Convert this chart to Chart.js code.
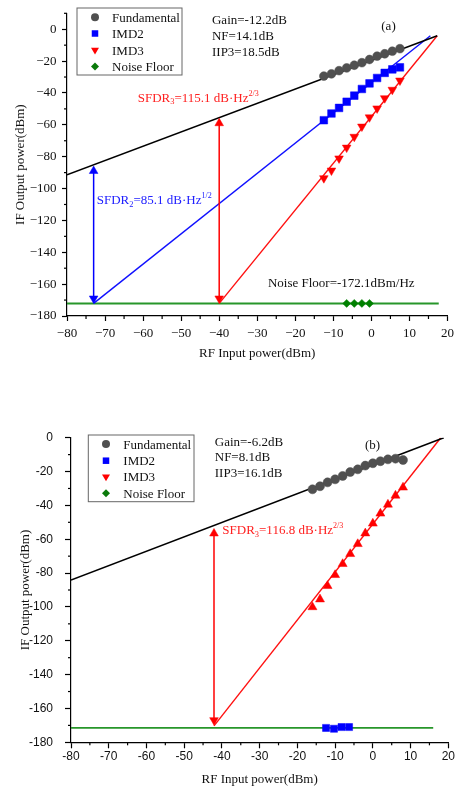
<!DOCTYPE html>
<html>
<head>
<meta charset="utf-8">
<script src="https://cdn.jsdelivr.net/npm/chart.js@4.4.1/dist/chart.umd.min.js"></script>
<style>
  html, body { margin: 0; padding: 0; background: #fff; }
  canvas { position: absolute; left: 0; }
</style>
</head>
<body>
<canvas id="chartA" width="459" height="400" style="top:0"></canvas>
<canvas id="chartB" width="459" height="389" style="top:400px"></canvas>
<script>
// ---------- panel (a) ----------
const fundXA = [-12.5, -10.5, -8.5, -6.5, -4.5, -2.5, -0.5, 1.5, 3.5, 5.5, 7.5];
const fundYA = [-29.4, -28.0, -26.0, -24.3, -22.6, -21.0, -19.0, -16.9, -15.4, -13.8, -12.2];
const imd2YA = [-57.1, -52.9, -49.4, -45.5, -41.7, -37.5, -34.0, -30.6, -27.4, -25.2, -23.9];
const imd3YA = [-93.5, -88.7, -81.1, -74.3, -67.5, -61.1, -55.3, -49.7, -43.3, -38.0, -32.2];
const noiseXA = [-6.5, -4.5, -2.5, -0.5];
const noiseYA = [-172.1, -172.1, -172.1, -172.1];

// fitted lines (start, end)
const fundLineXA = [-80, 17.3], fundLineYA = [-91.4, -4.1];
const imd2LineXA = [-73, 15.5], imd2LineYA = [-172.1, -4.1];
const imd3LineXA = [-40, 17.3], imd3LineYA = [-172.1, -4.1];
const floorLineXA = [-80, 17.7], floorLineYA = [-172.1, -172.1];

// SFDR arrows (top, bottom)
const arrow2XA = [-73, -73], arrow2YA = [-89, -169];
const arrow3XA = [-40, -40], arrow3YA = [-59, -169];

const notesA = ['SFDR_{2}=85.1 dB·Hz^{1/2}', 'SFDR_{3}=115.1 dB·Hz^{2/3}', 'Noise Floor=-172.1dBm/Hz',
  '(a)', 'Gain=-12.2dB', 'NF=14.1dB', 'IIP3=18.5dB'];
const notesXA = [-72.2, -61.4, -27.2, 2.6, -41.9, -41.9, -41.9];
const notesYA = [-109.8, -45.4, -162.0, -0.6, 3.1, -6.8, -17.1];
const notesColA = ['#2020ff', '#ff2020', '#111', '#111', '#111', '#111', '#111'];

// ---------- panel (b) ----------
const fundXB = [-16, -14, -12, -10, -8, -6, -4, -2, 0, 2, 4, 6, 8];
const fundYB = [-30.5, -28.7, -26.4, -24.6, -22.6, -20.3, -18.7, -16.5, -15.1, -13.9, -12.8, -12.4, -13.2];
const imd3YB = [-100.1, -95.5, -87.6, -81.1, -74.6, -68.7, -62.8, -56.5, -50.7, -44.8, -39.5, -34.2, -29.4];
const imd2XB = [-12.4, -10.3, -8.3, -6.3];
const imd2YB = [-171.5, -172.0, -171.0, -171.0];

const fundLineXB = [-80, 18.8], fundLineYB = [-84.1, 0];
const imd3LineXB = [-42.1, 18.0], imd3LineYB = [-170.3, 0];
const floorLineXB = [-80, 16.0], floorLineYB = [-171.5, -171.5];
const arrow3XB = [-42.1, -42.1], arrow3YB = [-56.6, -166.9];

const notesB = ['SFDR_{3}=116.8 dB·Hz^{2/3}', '(b)', 'Gain=-6.2dB', 'NF=8.1dB', 'IIP3=16.1dB'];
const notesXB = [-39.9, -2.1, -41.9, -41.9, -41.9];
const notesYB = [-57.1, -6.9, -4.7, -13.8, -23.1];
const notesColB = ['#ff2020', '#111', '#111', '#111', '#111'];

const SERIF = '"Liberation Serif", "Times New Roman", serif';
const SANS = '"Liberation Sans", Arial, sans-serif';
const GREY = '#505050', BLUE = '#0000ff', RED = '#ff0000', GREEN = '#008000';

const pts = (xs, ys) => xs.map((x, i) => ({x, y: ys[i]}));

// draw text with _{sub} and ^{sup} parts
function drawRich(ctx, str, x, y, size) {
  const parts = str.split(/(_\{[^}]*\}|\^\{[^}]*\})/).filter(s => s);
  let cx = x;
  parts.forEach(p => {
    let t = p, s = size, dy = 0;
    if (p.startsWith('_{')) { t = p.slice(2, -1); s = size * 0.65; dy = size * 0.22; }
    else if (p.startsWith('^{')) { t = p.slice(2, -1); s = size * 0.62; dy = -size * 0.45; }
    ctx.font = s + 'px ' + SERIF;
    ctx.fillText(t, cx, y + dy);
    cx += ctx.measureText(t).width;
  });
}

const notesPlugin = {
  id: 'notes',
  afterDraw(chart, args, o) {
    const ctx = chart.ctx;
    const {x, y} = chart.scales;
    ctx.save();
    ctx.textBaseline = 'alphabetic';
    ctx.textAlign = 'left';
    o.texts.forEach((t, i) => {
      ctx.fillStyle = o.colors[i];
      drawRich(ctx, t, x.getPixelForValue(o.xs[i]), y.getPixelForValue(o.ys[i]), 13);
    });
    ctx.restore();
  }
};

// Origin-like minor ticks between the labelled ones
const minorTicks = {
  id: 'minorTicks',
  afterDraw(chart, args, o) {
    const ctx = chart.ctx;
    ctx.save();
    ctx.strokeStyle = '#000';
    ctx.lineWidth = 1.2;
    ['x', 'y'].forEach(id => {
      const s = chart.scales[id];
      const step = o[id];
      for (let v = s.min; v <= s.max + 1e-9; v += step) {
        if (Math.abs(Math.round(v / step)) % 2 === 0) continue;
        const p = s.getPixelForValue(v);
        ctx.beginPath();
        if (id === 'x') { ctx.moveTo(p, s.top); ctx.lineTo(p, s.top + 3); }
        else { ctx.moveTo(s.right, p); ctx.lineTo(s.right - 3, p); }
        ctx.stroke();
      }
    });
    ctx.restore();
  }
};

// framed legend inside the plot
const boxLegend = {
  id: 'boxLegend',
  afterDraw(chart, args, o) {
    const ctx = chart.ctx;
    ctx.save();
    ctx.strokeStyle = '#666';
    ctx.lineWidth = 1;
    ctx.strokeRect(o.left, o.top, o.width, o.height);
    const items = chart.data.datasets.filter(d => d.legendStyle);
    items.forEach((d, i) => {
      const cy = o.top + o.rows[i];
      ctx.fillStyle = d.legendColor;
      ctx.strokeStyle = d.legendColor;
      Chart.helpers.drawPoint(ctx, {pointStyle: d.legendStyle, radius: d.legendRadius,
        rotation: d.legendRotation || 0, borderWidth: 0}, o.left + o.markX, cy);
      ctx.fillStyle = '#111';
      ctx.font = '13px ' + SERIF;
      ctx.textBaseline = 'alphabetic';
      ctx.fillText(d.label, o.left + o.textX, cy + 4.5);
    });
    ctx.restore();
  }
};

function lineSet(xs, ys, color, width) {
  return {data: pts(xs, ys), showLine: true, borderColor: color, borderWidth: width,
    pointRadius: 0, fill: false};
}
function arrowSet(xs, ys, color) {
  return {data: pts(xs, ys), showLine: true, borderColor: color, borderWidth: 1.5,
    pointStyle: 'triangle', pointRadius: 5, pointRotation: [0, 180],
    pointBackgroundColor: color, pointBorderColor: color, pointBorderWidth: 0.5};
}
function markSet(label, xs, ys, color, style, r, rot, legendRot, legendColor, legendR) {
  return {label, data: pts(xs, ys), pointStyle: style, pointRadius: r, pointRotation: rot,
    pointBackgroundColor: color, pointBorderColor: color, pointBorderWidth: 0.5,
    legendStyle: style, legendRotation: legendRot, legendColor: legendColor || color, legendRadius: legendR};
}

function axes(cfg) {
  const tickFont = {family: cfg.tickFamily, size: cfg.tickSize};
  const titleFont = {family: SERIF, size: 13};
  return {
    x: {
      type: 'linear', min: -80, max: 20,
      border: {display: true, color: '#000', width: 1.2},
      grid: {drawOnChartArea: false, drawTicks: true, tickLength: cfg.tickLen, tickColor: '#000', tickWidth: 1.2},
      ticks: {stepSize: 10, autoSkip: false, maxRotation: 0, color: '#111', font: tickFont,
        padding: cfg.xPad, callback: cfg.fmt},
      title: {display: true, text: 'RF Input power(dBm)', color: '#111', font: titleFont,
        padding: {top: 0, bottom: cfg.xTitlePad}},
      afterFit: s => { s.height = cfg.xHeight; }
    },
    y: {
      type: 'linear', min: -180, max: cfg.yMax,
      border: {display: true, color: '#000', width: 1.2},
      grid: {drawOnChartArea: false, drawTicks: true, tickLength: cfg.tickLen, tickColor: '#000', tickWidth: 1.2},
      ticks: {stepSize: 20, includeBounds: false, color: '#111', font: tickFont,
        padding: cfg.yPad, callback: cfg.fmt},
      title: {display: true, text: 'IF Output power(dBm)', color: '#111', font: titleFont,
        padding: {top: cfg.yTitlePad, bottom: 0}},
      afterFit: s => { s.width = cfg.yWidth; }
    }
  };
}

const commonPlugins = [minorTicks, notesPlugin, boxLegend];

new Chart(document.getElementById('chartA'), {
  type: 'scatter',
  data: {
    datasets: [
      markSet('Fundamental', fundXA, fundYA, GREY, 'circle', 4.4, 0, 0, GREY, 4),
      markSet('IMD2', fundXA, imd2YA, BLUE, 'rect', 5.4, 0, 0, BLUE, 4.6),
      markSet('IMD3', fundXA, imd3YA, RED, 'triangle', 5, 180, 180, RED, 4.6),
      markSet('Noise Floor', noiseXA, noiseYA, GREEN, 'rectRot', 4, 0, 0, '#0a7a0a', 4),
      arrowSet(arrow2XA, arrow2YA, BLUE),
      arrowSet(arrow3XA, arrow3YA, RED),
      lineSet(fundLineXA, fundLineYA, '#000', 1.5),
      lineSet(imd2LineXA, imd2LineYA, '#1010ff', 1.4),
      lineSet(imd3LineXA, imd3LineYA, '#ff1010', 1.4),
      lineSet(floorLineXA, floorLineYA, '#27962a', 2)
    ]
  },
  options: {
    responsive: false, animation: false, events: [],
    layout: {padding: {left: 0, top: 9.6, right: 11, bottom: 0}},
    scales: axes({tickFamily: SERIF, tickSize: 13, tickLen: 5, xPad: 5, yPad: 5.5,
      xHeight: 84, yWidth: 67, xTitlePad: 39, yTitlePad: 13, yMax: 10,
      fmt: v => v < 0 ? '\u2212' + (-v) : String(v)}),
    plugins: {
      legend: {display: false}, tooltip: {enabled: false},
      minorTicks: {x: 5, y: 10},
      notes: {texts: notesA, xs: notesXA, ys: notesYA, colors: notesColA},
      boxLegend: {left: 77, top: 8, width: 105, height: 67, rows: [9.3, 25.5, 42, 58.5], markX: 18, textX: 35}
    }
  },
  plugins: commonPlugins
});

new Chart(document.getElementById('chartB'), {
  type: 'scatter',
  data: {
    datasets: [
      markSet('Fundamental', fundXB, fundYB, GREY, 'circle', 4.5, 0, 0, GREY, 4),
      markSet('IMD2', imd2XB, imd2YB, BLUE, 'rect', 5, 0, 0, BLUE, 4.6),
      markSet('IMD3', fundXB, imd3YB, RED, 'triangle', 5.2, 0, 180, RED, 4.6),
      markSet('Noise Floor', [], [], GREEN, 'rectRot', 3.8, 0, 0, '#0a7a0a', 4),
      arrowSet(arrow3XB, arrow3YB, RED),
      lineSet(fundLineXB, fundLineYB, '#000', 1.5),
      lineSet(imd3LineXB, imd3LineYB, '#ff1010', 1.4),
      lineSet(floorLineXB, floorLineYB, '#27962a', 1.6)
    ]
  },
  options: {
    responsive: false, animation: false, events: [],
    layout: {padding: {left: 0, top: 37.7, right: 10.7, bottom: 0}},
    scales: axes({tickFamily: SANS, tickSize: 12, tickLen: 6, xPad: 1.5, yPad: 12,
      xHeight: 46.7, yWidth: 71, xTitlePad: 1.2, yTitlePad: 18, yMax: 0,
      fmt: v => String(v)}),
    plugins: {
      legend: {display: false}, tooltip: {enabled: false},
      minorTicks: {x: 5, y: 10},
      notes: {texts: notesB, xs: notesXB, ys: notesYB, colors: notesColB},
      boxLegend: {left: 88.3, top: 35, width: 105.7, height: 66.7, rows: [9, 25.7, 41.7, 58.3], markX: 17.7, textX: 35}
    }
  },
  plugins: commonPlugins
});
</script>
</body>
</html>
